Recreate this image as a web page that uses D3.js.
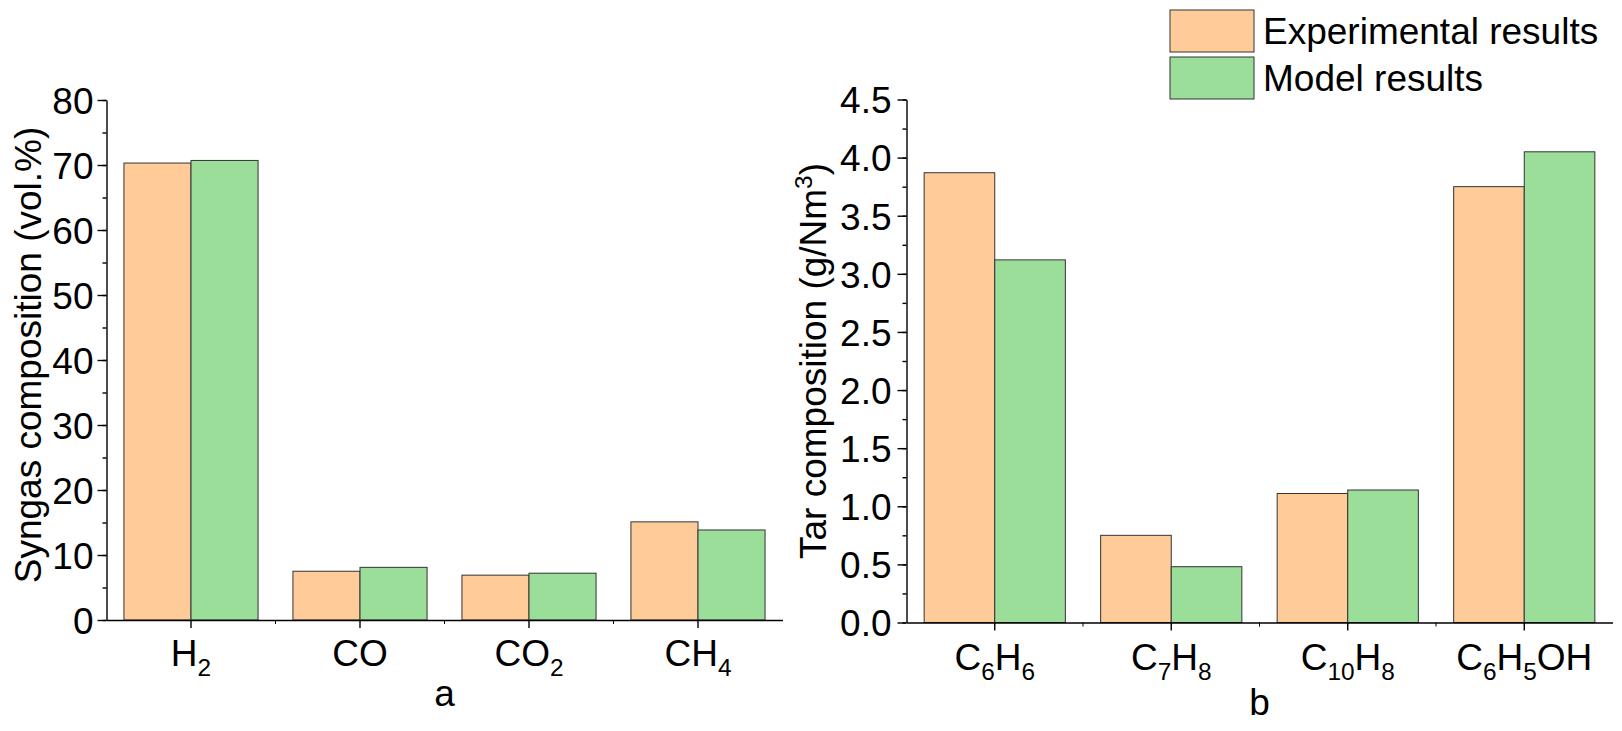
<!DOCTYPE html>
<html>
<head>
<meta charset="utf-8">
<script src="https://cdn.jsdelivr.net/npm/d3@7.9.0/dist/d3.min.js"></script>
<style>
  body { margin: 0; background: #fff; }
  text { font-family: "Liberation Sans", Arial, sans-serif; fill: #000; }
</style>
</head>
<body>
<svg id="chart" width="1622" height="731"></svg>
<script>
const series = ["Experimental results", "Model results"];
const colors = ["#FFCC99", "#9ADE9A"];

const gasCategories = ["H2", "CO", "CO2", "CH4"];
const gasExperimental = [70.3, 7.5, 6.9, 15.1];
const gasModel = [70.7, 8.1, 7.2, 13.85];

const tarCategories = ["C6H6", "C7H8", "C10H8", "C6H5OH"];
const tarExperimental = [3.87, 0.75, 1.11, 3.75];
const tarModel = [3.12, 0.48, 1.14, 4.05];

const svg = d3.select("#chart");
const FS = 37;

// digits in a formula become subscripts
function formula(sel, label) {
  label.match(/[A-Za-z]+|\d+/g).forEach((part) => {
    const t = sel.append("tspan").text(part);
    if (/\d/.test(part)) t.attr("font-size", FS * 0.66).attr("dy", 10);
    else t.attr("dy", sel.selectAll("tspan").size() > 1 ? -10 : 0);
  });
}

function panel(opt) {
  const g = svg.append("g");
  const x = d3.scaleBand().domain(opt.categories).range(opt.xRange);
  const xs = d3.scaleBand().domain(series).range([0, x.bandwidth()]).paddingOuter(opt.pad);
  const y = d3.scaleLinear().domain([0, opt.yMax]).range(opt.yRange);

  const rows = opt.categories.map((c, i) => ({ cat: c, vals: [opt.exp[i], opt.mod[i]] }));

  g.selectAll("g.group")
    .data(rows)
    .join("g")
    .attr("class", "group")
    .attr("transform", (d) => `translate(${x(d.cat)},0)`)
    .selectAll("rect")
    .data((d) => d.vals.map((v, i) => ({ v, s: series[i], i })))
    .join("rect")
    .attr("x", (d) => xs(d.s))
    .attr("width", xs.bandwidth())
    .attr("y", (d) => y(d.v))
    .attr("height", (d) => y(0) - y(d.v))
    .attr("fill", (d) => colors[d.i])
    .attr("stroke", "#333")
    .attr("stroke-width", 1);

  const base = opt.yRange[0];
  const left = opt.xRange[0];

  // y axis: minor then major
  g.append("g")
    .attr("transform", `translate(${left},0)`)
    .call(d3.axisLeft(y).tickValues(d3.range(0, opt.yMax + 1e-9, opt.minor)).tickSize(4).tickFormat(""))
    .call((a) => a.select(".domain").remove());
  g.append("g")
    .attr("transform", `translate(${left},0)`)
    .call(d3.axisLeft(y).tickValues(d3.range(0, opt.yMax + 1e-9, opt.major)).tickSize(9).tickSizeOuter(0).tickPadding(opt.tickPad).tickFormat(d3.format(opt.fmt)))
    .call((a) => a.selectAll("text").attr("font-size", FS).attr("font-family", null).attr("dy", "0.36em"));

  // x axis: major ticks at categories, minor ticks between them
  const xa = g.append("g")
    .attr("transform", `translate(0,${base})`)
    .call(d3.axisBottom(x).tickSize(8).tickSizeOuter(0).tickFormat(""));
  xa.selectAll(".tick").each(function (d) {
    formula(d3.select(this).append("text").attr("y", opt.labelY).attr("text-anchor", "middle").attr("font-size", FS), d);
  });
  g.append("g")
    .selectAll("line")
    .data(opt.categories.slice(1))
    .join("line")
    .attr("x1", (d) => x(d)).attr("x2", (d) => x(d))
    .attr("y1", base).attr("y2", base + 4)
    .attr("stroke", "#000");

  g.selectAll(".domain, .tick line").attr("stroke", "#000").attr("stroke-width", 1.4);

  // y title
  const yt = g.append("text")
    .attr("transform", `translate(${opt.titleX},${opt.titleY}) rotate(-90)`)
    .attr("text-anchor", "middle")
    .attr("font-size", FS);
  yt.append("tspan").text(opt.title);
  if (opt.sup) {
    yt.append("tspan").text(opt.sup).attr("font-size", FS * 0.66).attr("dy", -14);
    yt.append("tspan").text(")").attr("dy", 14);
  }

  // panel letter
  g.append("text")
    .attr("x", (opt.xRange[0] + opt.xRange[1]) / 2)
    .attr("y", opt.letterY)
    .attr("text-anchor", "middle")
    .attr("font-size", FS)
    .text(opt.letter);
}

panel({
  categories: gasCategories, exp: gasExperimental, mod: gasModel,
  xRange: [106.5, 782.5], yRange: [620, 100], yMax: 80, major: 10, minor: 5, fmt: "d",
  pad: 0.26, tickPad: 4, labelY: 46, title: "Syngas composition (vol.%)", titleX: 41, titleY: 355,
  letter: "a", letterY: 706
});

panel({
  categories: tarCategories, exp: tarExperimental, mod: tarModel,
  xRange: [906.5, 1612.5], yRange: [622.5, 99.5], yMax: 4.5, major: 0.5, minor: 0.25, fmt: ".1f",
  pad: 0.25, tickPad: 6, labelY: 47, title: "Tar composition (g/Nm", sup: "3", titleX: 826, titleY: 361,
  letter: "b", letterY: 715
});

// legend
const legend = svg.append("g").attr("transform", "translate(1170,10)");
const item = legend.selectAll("g")
  .data(series)
  .join("g")
  .attr("transform", (d, i) => `translate(0,${i * 47})`);
item.append("rect")
  .attr("width", 84).attr("height", 42)
  .attr("fill", (d, i) => colors[i])
  .attr("stroke", "#333").attr("stroke-width", 1);
item.append("text")
  .attr("x", 93).attr("y", 34)
  .attr("font-size", FS)
  .text((d) => d);
</script>
</body>
</html>
